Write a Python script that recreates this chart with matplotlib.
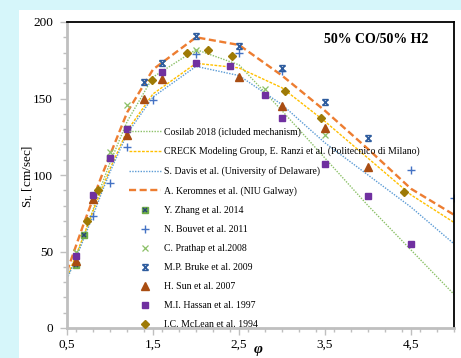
import matplotlib
matplotlib.use("Agg")
import matplotlib.pyplot as plt
from matplotlib.path import Path
from matplotlib.patches import Rectangle
from matplotlib.ticker import FixedLocator, MultipleLocator

plt.rcParams['font.family'] = ['Liberation Serif', 'DejaVu Serif']
plt.rcParams['mathtext.fontset'] = 'custom'
plt.rcParams['mathtext.rm'] = 'Liberation Serif'
plt.rcParams['mathtext.it'] = 'Liberation Serif:italic'
plt.rcParams['mathtext.bf'] = 'Liberation Serif:bold'

# model curves
phi_model = [0.5, 0.6, 0.7, 0.8, 0.9, 1.0, 1.2, 1.5, 2.0, 2.5, 3.0, 3.5, 4.0, 4.5, 5.0]
cosilab = [32, 46, 61, 77, 93, 108, 135, 164, 182, 172, 142, 111, 80, 51, 22]
creck = [33, 47, 61, 76, 90, 104, 129, 153, 173, 170, 157, 135, 111, 87, 69]
davis = [32, 45, 59, 73, 88, 102, 127, 151, 171, 165, 146, 121, 100, 79, 55]
keromnes = [37, 53, 69, 84, 99, 113, 141, 169, 190, 185, 165, 142, 117, 91, 74]

# experiments
zhang_phi = [0.6, 0.7, 1.0, 1.2]
zhang_sl = [41, 61, 111, 130]
bouvet_phi = [0.8, 1.0, 1.2, 1.5, 2.0, 2.5, 3.0, 4.5, 5.0]
bouvet_sl = [73, 95, 118, 149, 179, 180, 168, 103, 85]
prathap_phi = [0.6, 0.8, 1.0, 1.2, 1.6, 2.0, 2.8, 3.5]
prathap_sl = [50, 84, 115, 146, 173, 182, 156, 126]
bruke_phi = [1.4, 1.6, 2.0, 2.5, 3.0, 3.5, 4.0]
bruke_sl = [161, 173, 191, 184, 170, 148, 124]
sun_phi = [0.6, 0.8, 1.2, 1.4, 1.6, 2.5, 3.0, 3.5, 4.0]
sun_sl = [44, 84, 126, 150, 163, 164, 145, 131, 105]
hassan_phi = [0.6, 0.8, 1.0, 1.2, 1.6, 2.0, 2.4, 2.8, 3.0, 3.5, 4.0, 4.5]
hassan_sl = [47, 87, 111, 130, 167, 173, 171, 152, 137, 107, 86, 55]
mclean_phi = [0.73, 0.86, 1.49, 1.89, 2.14, 2.42, 3.04, 3.45, 4.42]
mclean_sl = [70, 90, 162, 180, 182, 178, 155, 137, 89]

xticks = [0.5, 1.5, 2.5, 3.5, 4.5]
xticklabels = ['0,5', '1,5', '2,5', '3,5', '4,5']
yticks = [0, 50, 100, 150, 200]

# x with bars marker (hourglass)
hg = Path([(-1, -1), (1, 1), (-1, 1), (1, -1), (-1, 1), (1, 1), (-1, -1), (1, -1)],
          [Path.MOVETO, Path.LINETO, Path.MOVETO, Path.LINETO,
           Path.MOVETO, Path.LINETO, Path.MOVETO, Path.LINETO])

fig = plt.figure(figsize=(4.61, 3.58), dpi=100, facecolor='#d6f6fa')
fig.patches.append(Rectangle((19 / 461, 0), 1, 1 - 10 / 358, transform=fig.transFigure,
                             facecolor='white', edgecolor='none', zorder=-10))
ax = fig.add_axes([67 / 461, 30 / 358, 387 / 461, 306 / 358])
ax.set_zorder(1)
ax.set_facecolor('white')

ax.plot(phi_model, cosilab, color='#8cc168', ls=(0, (1, 1)), lw=1, label='Cosilab 2018 (icluded mechanism)')
ax.plot(phi_model, creck, color='#ffc000', ls=(0, (2, 1)), lw=1, label='CRECK Modeling Group, E. Ranzi et al. (Politecnico di Milano)')
ax.plot(phi_model, davis, color='#5b9bd5', ls=(0, (1, 1)), lw=1, label='S. Davis et al. (University of Delaware)')
ax.plot(phi_model, keromnes, color='#ed7d31', ls=(0, (3, 1.5)), lw=1.7, label='A. Keromnes et al. (NIU Galway)')

h1, = ax.plot(zhang_phi, zhang_sl, ls='none', marker='s', ms=4.5, mfc='#70ad47', mec='#70ad47')
h2, = ax.plot(zhang_phi, zhang_sl, ls='none', marker='x', ms=2.8, mew=1.1, color='#264478')
ax.plot(bouvet_phi, bouvet_sl, ls='none', marker='+', ms=6, mew=1, color='#4472c4', label='N. Bouvet et al. 2011')
ax.plot(prathap_phi, prathap_sl, ls='none', marker='x', ms=5, mew=0.9, color='#8cc168', label='C. Prathap et al.2008')
ax.plot(bruke_phi, bruke_sl, ls='none', marker=hg, ms=4.2, mew=1.1, mfc='none', color='#2e5c9e', label='M.P. Bruke et al. 2009')
ax.plot(sun_phi, sun_sl, ls='none', marker='^', ms=5.2, color='#a94d12', label='H. Sun et al. 2007')
ax.plot(hassan_phi, hassan_sl, ls='none', marker='s', ms=4.6, color='#7030a0', label='M.I. Hassan et al. 1997')
ax.plot(mclean_phi, mclean_sl, ls='none', marker='D', ms=4.3, color='#9e7a06', label='I.C. McLean et al. 1994')

handles, labels = ax.get_legend_handles_labels()
handles.insert(4, (h1, h2))
labels.insert(4, 'Y. Zhang et al. 2014')
ax.legend(handles, labels, loc='upper left', bbox_to_anchor=(0.147, 0.672), frameon=False,
          fontsize=7, handlelength=3.3, labelspacing=1.03, handletextpad=0.3, borderpad=0)

ax.set_xlim(0.5, 5.0)
ax.set_ylim(0, 200)
ax.xaxis.set_major_locator(FixedLocator(xticks))
ax.set_xticklabels(xticklabels)
ax.xaxis.set_minor_locator(MultipleLocator(0.2))
ax.yaxis.set_major_locator(FixedLocator(yticks))
ax.yaxis.set_minor_locator(MultipleLocator(10))
ax.tick_params(axis='both', which='major', labelsize=9.5, color='#bfbfbf', length=5, width=1)
ax.tick_params(axis='both', which='minor', color='#bfbfbf', length=3, width=1)
ax.tick_params(axis='x', pad=3)
ax.tick_params(axis='y', pad=5)

for s in ['left', 'bottom']:
    ax.spines[s].set_color('#bfbfbf')
    ax.spines[s].set_linewidth(2)
for s in ['top', 'right']:
    ax.spines[s].set_color('black')
    ax.spines[s].set_linewidth(1.3)

ax.set_ylabel(r'S$_\mathrm{L}$ [cm/sec]', fontsize=9.5)
ax.yaxis.set_label_coords(-0.083, 0.495)
ax.text(0.4935, -0.071, '\u03c6', transform=ax.transAxes, ha='center', va='center',
        fontsize=11, fontweight='bold', fontstyle='italic')
ax.text(0.935, 0.944, '50% CO/50% H2', transform=ax.transAxes, ha='right', va='center',
        fontsize=10, fontweight='bold')

fig.savefig('out.png', dpi=100, facecolor=fig.get_facecolor())
